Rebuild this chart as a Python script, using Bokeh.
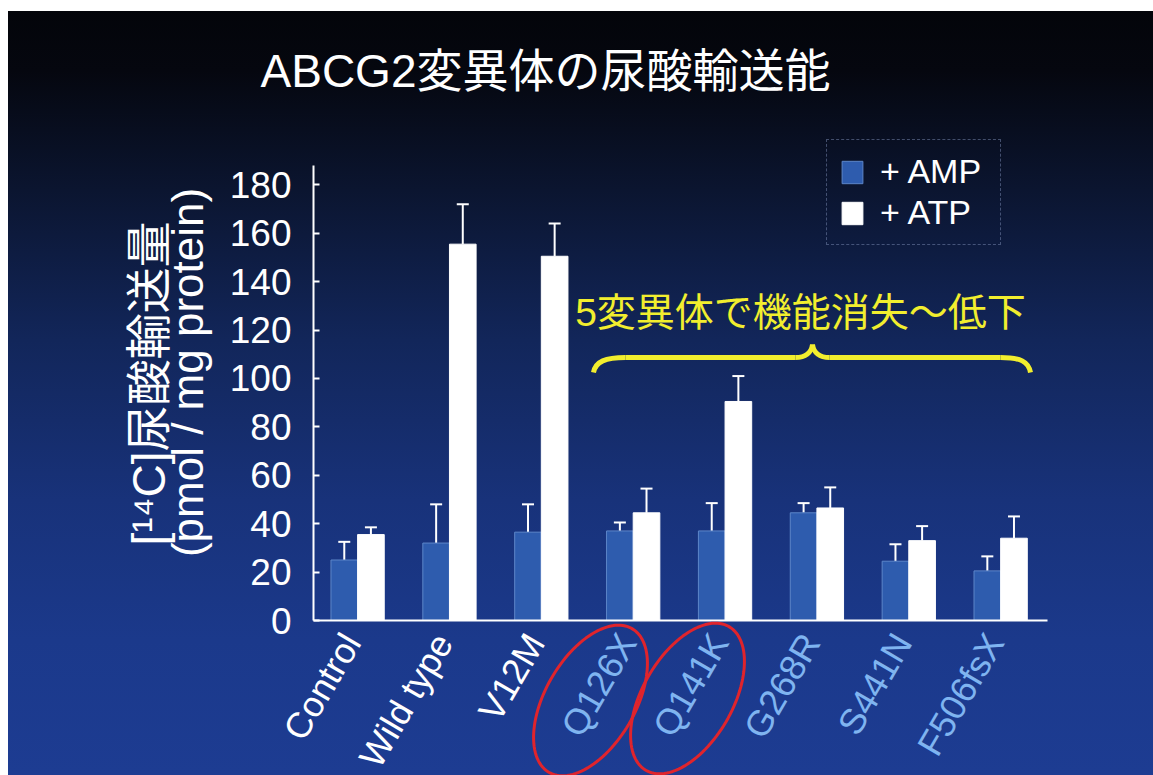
import numpy as np
from bokeh.plotting import figure
from bokeh.models import (ColumnDataSource, Range1d, FixedTicker, Whisker, TeeHead,
                          Label, LabelSet, Legend, LegendItem, PolyAnnotation)
from bokeh.core.properties import value
from bokeh.embed import file_html
from bokeh.resources import INLINE

# ---- data ------------------------------------------------------------------
categories = ["Control", "Wild type", "V12M", "Q126X", "Q141K", "G268R", "S441N", "F506fsX"]
amp_values = [25, 32, 36.5, 37, 37, 44.5, 24.5, 20.5]
amp_errors = [7.5, 16, 11.5, 3.5, 11.5, 4, 7, 6]
atp_values = [35.5, 155.5, 150.5, 44.5, 90.5, 46.5, 33, 34]
atp_errors = [3, 16.5, 13.5, 10, 10.5, 8.5, 6, 9]
label_colors = ["#ffffff", "#ffffff", "#ffffff", "#7fb4f0", "#7fb4f0", "#7fb4f0", "#7fb4f0", "#7fb4f0"]
y_ticks = [0, 20, 40, 60, 80, 100, 120, 140, 160, 180]

title_text = "ABCG2変異体の尿酸輸送能"
ylabel_line1 = "[¹⁴C]尿酸輸送量"
ylabel_line2 = "(pmol / mg protein)"
note_text = "5変異体で機能消失～低下"

# ---- layout ----------------------------------------------------------------
W, H = 1153, 775
# plot frame (canvas minus a thin top strip and the y tick-label gutter)
FL, FR, FT, FB = 100, W, 11, H
# where the axes sit inside the frame (px)
AL, AR, AT, AB = 313, 1047, 165, 620
XA0, XA1 = -0.48, 7.51          # x extent covered by the x axis
YA0, YA1 = 0, 188               # y extent covered by the y axis
kx = (AR - AL) / (XA1 - XA0)
ky = (AB - AT) / (YA1 - YA0)
X0, X1 = XA0 - (AL - FL) / kx, XA1 + (FR - AR) / kx
Y0, Y1 = YA0 - (FB - AB) / ky, YA1 + (AT - FT) / ky

def sx(px):
    return XA0 + (px - AL) / kx

def sy(py):
    return YA0 + (AB - py) / ky

CJK = "Liberation Sans, Noto Sans CJK JP"
LATIN = "Liberation Sans"
YELLOW = "#f2ee2e"

bg = ("linear-gradient(to right, #ffffff 0 8px, transparent 8px), "
      "linear-gradient(to bottom, #ffffff 0 11px, transparent 11px), "
      "linear-gradient(to bottom, #030409 0px, #05070f 70px, #0b1530 190px, "
      "#12265a 340px, #18327a 500px, #1b398b 640px, #1d3c92 775px)")

p = figure(width=W, height=H, output_backend="svg", toolbar_location=None,
           x_range=Range1d(X0, X1), y_range=Range1d(Y0, Y1),
           x_axis_location="above", y_axis_location="left",
           min_border_left=FL, min_border_right=W - FR,
           min_border_top=FT, min_border_bottom=H - FB,
           styles={"background": bg})
p.title.visible = False
p.border_fill_color = None
p.background_fill_color = None
p.outline_line_color = None
p.grid.visible = False

# ---- bars ------------------------------------------------------------------
idx = list(range(len(categories)))
src = ColumnDataSource(dict(
    idx=idx, cat=categories, amp=amp_values, atp=atp_values,
    amp_hi=[v + e for v, e in zip(amp_values, amp_errors)],
    atp_hi=[v + e for v, e in zip(atp_values, atp_errors)],
    amp_x=[i - 0.145 for i in idx], atp_x=[i + 0.145 for i in idx],
    color=label_colors,
))

r_amp = p.vbar(x="amp_x", top="amp", width=0.29, source=src,
               fill_color="#2e5cae", line_color="#5d86c9", line_width=1)
r_atp = p.vbar(x="atp_x", top="atp", width=0.29, source=src,
               fill_color="#ffffff", line_color="#ffffff", line_width=1)

for base, lo, hi in (("amp_x", "amp", "amp_hi"), ("atp_x", "atp", "atp_hi")):
    p.add_layout(Whisker(source=src, base=base, lower=lo, upper=hi,
                         line_color="#ffffff", line_width=2, lower_head=None,
                         upper_head=TeeHead(size=12, line_color="#ffffff", line_width=2)))

# ---- axes ------------------------------------------------------------------
ya = p.yaxis[0]
ya.fixed_location = XA0
ya.bounds = (YA0, YA1)
ya.ticker = FixedTicker(ticks=y_ticks)
ya.minor_tick_line_color = None
ya.minor_tick_out = 0
ya.major_tick_in = 6
ya.major_tick_out = 0
ya.major_tick_line_color = "#ffffff"
ya.major_tick_line_width = 2
ya.axis_line_color = "#ffffff"
ya.axis_line_width = 2
ya.major_label_text_color = "#ffffff"
ya.major_label_text_font = LATIN
ya.major_label_text_font_size = "37px"
ya.major_label_standoff = 22

xa = p.xaxis[0]
xa.fixed_location = 0
xa.bounds = (XA0, XA1)
xa.ticker = FixedTicker(ticks=[])
xa.minor_tick_line_color = None
xa.major_tick_line_color = None
xa.major_tick_in = 0
xa.major_tick_out = 0
xa.minor_tick_in = 0
xa.minor_tick_out = 0
xa.major_label_standoff = 0
xa.axis_line_color = "#ffffff"
xa.axis_line_width = 2

# rotated category labels under the x axis
p.add_layout(LabelSet(x="idx", y=0, text="cat", source=src, x_offset=-6, y_offset=-16,
                      angle=1.04, text_align="right", text_baseline="middle",
                      text_color="color", text_font=value(LATIN), text_font_size="36px"))

# y-axis title (two lines)
p.add_layout(Label(x=sx(148), y=sy(383), text=ylabel_line1, angle=np.pi / 2,
                   text_align="center", text_baseline="middle",
                   text_color="#ffffff", text_font=CJK, text_font_size="46px"))
p.add_layout(Label(x=sx(187), y=sy(372), text=ylabel_line2, angle=np.pi / 2,
                   text_align="center", text_baseline="middle",
                   text_color="#ffffff", text_font=LATIN, text_font_size="44px"))

# title
p.add_layout(Label(x=sx(545), y=sy(70), text=title_text, text_align="center",
                   text_baseline="middle", text_color="#ffffff",
                   text_font=CJK, text_font_size="46px"))

# ---- annotation: note and brace ---------------------------------------------
p.add_layout(Label(x=sx(800), y=sy(312), text=note_text, text_align="center",
                   text_baseline="middle", text_color=YELLOW,
                   text_font=CJK, text_font_size="39px"))

brace_px = [
    ((593, 372), (595, 361), (605, 357), (625, 357)),
    ((625, 357), (700, 357), (720, 357), (795, 357)),
    ((795, 357), (805, 357), (811, 352), (812, 344)),
    ((812, 344), (813, 352), (819, 357), (829, 357)),
    ((829, 357), (900, 357), (930, 357), (1000, 357)),
    ((1000, 357), (1020, 357), (1028, 361), (1030, 372)),
]
p.bezier(x0=[sx(s[0][0]) for s in brace_px], y0=[sy(s[0][1]) for s in brace_px],
         cx0=[sx(s[1][0]) for s in brace_px], cy0=[sy(s[1][1]) for s in brace_px],
         cx1=[sx(s[2][0]) for s in brace_px], cy1=[sy(s[2][1]) for s in brace_px],
         x1=[sx(s[3][0]) for s in brace_px], y1=[sy(s[3][1]) for s in brace_px],
         line_color=YELLOW, line_width=5)

# red ellipses around the truncating variants
t = np.linspace(0, 2 * np.pi, 120)
theta = np.deg2rad(60)
for cxp, cyp in ((590, 700), (687, 698)):
    ex = cxp + 83 * np.cos(theta) * np.cos(t) - 45 * np.sin(theta) * np.sin(t)
    ey = cyp - (83 * np.sin(theta) * np.cos(t) + 45 * np.cos(theta) * np.sin(t))
    p.add_layout(PolyAnnotation(xs=[sx(v) for v in ex], ys=[sy(v) for v in ey],
                                xs_units="data", ys_units="data",
                                fill_alpha=0, line_alpha=1.0,
                                line_color="#e0242c", line_width=3))

# ---- legend ----------------------------------------------------------------
legend = Legend(items=[LegendItem(label="+ AMP", renderers=[r_amp]),
                       LegendItem(label="+ ATP", renderers=[r_atp])],
                location=(826 - FL, FB - 245), orientation="vertical",
                glyph_width=26, glyph_height=28, spacing=2, padding=12,
                label_standoff=15, label_width=108, margin=0,
                label_text_color="#ffffff", label_text_font=LATIN,
                label_text_font_size="34px",
                background_fill_alpha=0, border_line_color="#7d8db5",
                border_line_width=1, border_line_dash="1 3")
p.add_layout(legend)

open("out.html", "w").write(file_html(p, INLINE))
